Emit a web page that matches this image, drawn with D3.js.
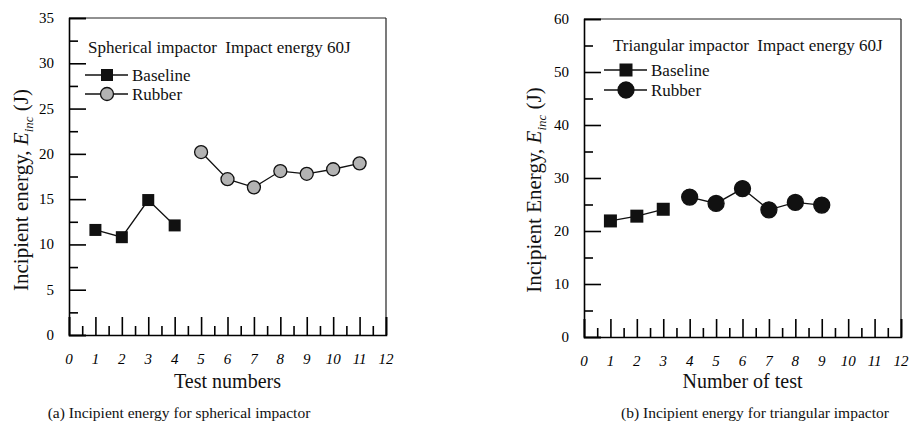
<!DOCTYPE html>
<html>
<head>
<meta charset="utf-8">
<script src="https://cdn.jsdelivr.net/npm/d3@7"></script>
<style>
  body { margin: 0; background: #fff; }
  text { font-family: "Liberation Serif", serif; }
</style>
</head>
<body>
<div id="chart"></div>
<script>
// spherical impactor
const sphBaseTests = [1, 2, 3, 4];
const sphBaseEnergy = [11.6, 10.8, 14.9, 12.1];
const sphRubTests = [5, 6, 7, 8, 9, 10, 11];
const sphRubEnergy = [20.2, 17.2, 16.3, 18.1, 17.8, 18.3, 18.95];

// triangular impactor
const triBaseTests = [1, 2, 3];
const triBaseEnergy = [21.9, 22.8, 24.1];
const triRubTests = [4, 5, 6, 7, 8, 9];
const triRubEnergy = [26.4, 25.2, 28, 24, 25.4, 24.9];

const xTicks = d3.range(0, 13);
const serif = "Liberation Serif";

const svg = d3.select("#chart").append("svg")
    .attr("width", 911)
    .attr("height", 428);

const addText = function(parent){
    return parent.append("text").attr("font-family", serif).attr("fill", "#111");
}

const drawPanel = function(opt){
    const x = d3.scaleLinear().domain([0, 12]).range([opt.left, opt.right]);
    const y = d3.scaleLinear().domain([0, opt.yMax]).range([opt.bottom, opt.top]);
    const g = svg.append("g");

    // frame
    g.append("line").attr("x1", opt.left).attr("x2", opt.right).attr("y1", opt.top).attr("y2", opt.top)
        .attr("stroke", "#222").attr("stroke-width", 1);
    g.append("line").attr("x1", opt.right).attr("x2", opt.right).attr("y1", opt.top).attr("y2", opt.bottom)
        .attr("stroke", "#222").attr("stroke-width", 1.2);

    // y axis, ticks pointing inward
    const yAxis = g.append("g")
        .attr("transform", `translate(${opt.left},0)`)
        .call(d3.axisRight(y).tickValues(d3.range(0, opt.yMax + 0.01, opt.yStep)).tickSize(17).tickFormat(""));
    yAxis.select(".domain").attr("stroke-width", 1.6);
    yAxis.selectAll(".tick line").attr("stroke-width", 1.6);
    g.append("g")
        .attr("transform", `translate(${opt.left},0)`)
        .call(d3.axisRight(y).tickValues(d3.range(opt.yStep / 2, opt.yMax, opt.yStep)).tickSize(9).tickFormat(""))
        .call(a => a.select(".domain").remove())
        .selectAll(".tick line").attr("stroke-width", 1.6);
    g.selectAll(".ylab")
        .data(d3.range(0, opt.yMax + 0.01, opt.yStep))
        .enter()
        .append("text")
        .attr("font-family", serif)
        .attr("x", opt.left - 15)
        .attr("y", d => y(d))
        .attr("dy", "0.33em")
        .attr("text-anchor", "end")
        .style("font-size", "15px")
        .text(d => d);

    // x axis, ticks pointing up
    const xAxis = g.append("g")
        .attr("transform", `translate(0,${opt.bottom})`)
        .call(d3.axisTop(x).tickValues(xTicks).tickSize(18).tickFormat(""));
    xAxis.select(".domain").attr("stroke-width", 1.6);
    xAxis.selectAll(".tick line").attr("stroke-width", 1.6);
    g.append("g")
        .attr("transform", `translate(0,${opt.bottom})`)
        .call(d3.axisTop(x).tickValues(d3.range(0.5, 12, 1)).tickSize(9).tickFormat(""))
        .call(a => a.select(".domain").remove())
        .selectAll(".tick line").attr("stroke-width", 1.6);
    g.selectAll(".xlab")
        .data(xTicks)
        .enter()
        .append("text")
        .attr("font-family", serif)
        .attr("x", d => x(d))
        .attr("y", opt.bottom + 29)
        .attr("text-anchor", "middle")
        .style("font-size", "15px")
        .style("font-style", "italic")
        .text(d => d);

    // titles
    addText(g)
        .attr("x", (opt.left + opt.right) / 2)
        .attr("y", 388)
        .attr("text-anchor", "middle")
        .style("font-size", "20px")
        .text(opt.xTitle);

    const yt = addText(g)
        .attr("transform", `translate(${opt.yTitleX},190) rotate(-90)`)
        .attr("text-anchor", "middle")
        .style("font-size", "21px");
    yt.append("tspan").text(opt.yTitle + ", ");
    yt.append("tspan").style("font-style", "italic").text("E");
    yt.append("tspan").style("font-style", "italic").style("font-size", "13px").attr("dy", 5).text("inc");
    yt.append("tspan").attr("dy", -5).text(" (J)");

    addText(g)
        .attr("x", opt.captionX)
        .attr("y", 418)
        .attr("text-anchor", "middle")
        .style("font-size", "15.5px")
        .text(opt.caption);

    // series
    const line = d3.line().x(d => x(d[0])).y(d => y(d[1]));
    const base = opt.baseTests.map((t, i) => [t, opt.baseEnergy[i]]);
    const rub = opt.rubTests.map((t, i) => [t, opt.rubEnergy[i]]);

    g.append("path").datum(base).attr("d", line).attr("fill", "none").attr("stroke", "#111").attr("stroke-width", 1.3);
    g.append("path").datum(rub).attr("d", line).attr("fill", "none").attr("stroke", "#111").attr("stroke-width", 1.3);

    const sq = opt.sq;
    g.selectAll(".base")
        .data(base)
        .enter()
        .append("rect")
        .attr("x", d => x(d[0]) - sq / 2)
        .attr("y", d => y(d[1]) - sq / 2)
        .attr("width", sq)
        .attr("height", sq)
        .attr("fill", "#111");

    g.selectAll(".rub")
        .data(rub)
        .enter()
        .append("circle")
        .attr("cx", d => x(d[0]))
        .attr("cy", d => y(d[1]))
        .attr("r", opt.rubR)
        .attr("fill", opt.rubFill)
        .attr("stroke", "#111")
        .attr("stroke-width", 1.3);

    // legend
    addText(g)
        .attr("x", opt.titleX)
        .attr("y", opt.legY)
        .attr("dy", "0.35em")
        .style("font-size", "17px")
        .style("white-space", "pre")
        .text(opt.legTitle);
    const ly1 = opt.legY + opt.legGap1;
    const ly2 = ly1 + opt.legGap2;
    g.append("line").attr("x1", opt.legX - 3).attr("x2", opt.legX + 40).attr("y1", ly1).attr("y2", ly1)
        .attr("stroke", "#111").attr("stroke-width", 1.3);
    g.append("rect").attr("x", opt.legX + 19 - sq / 2).attr("y", ly1 - sq / 2)
        .attr("width", sq).attr("height", sq).attr("fill", "#111");
    addText(g).attr("x", opt.legX + 44).attr("y", ly1).attr("dy", "0.35em")
        .style("font-size", "17px").text("Baseline");
    g.append("line").attr("x1", opt.legX - 3).attr("x2", opt.legX + 40).attr("y1", ly2).attr("y2", ly2)
        .attr("stroke", "#111").attr("stroke-width", 1.3);
    g.append("circle").attr("cx", opt.legX + 19).attr("cy", ly2).attr("r", opt.rubR)
        .attr("fill", opt.rubFill).attr("stroke", "#111").attr("stroke-width", 1.3);
    addText(g).attr("x", opt.legX + 44).attr("y", ly2).attr("dy", "0.35em")
        .style("font-size", "17px").text("Rubber");
}

drawPanel({
    left: 69, right: 386, top: 18, bottom: 335,
    yMax: 35, yStep: 5,
    baseTests: sphBaseTests, baseEnergy: sphBaseEnergy,
    rubTests: sphRubTests, rubEnergy: sphRubEnergy,
    sq: 12, rubR: 6.5, rubFill: "#b3b3b3",
    xTitle: "Test numbers",
    yTitle: "Incipient energy", yTitleX: 28,
    caption: "(a) Incipient energy for spherical impactor", captionX: 179,
    legTitle: "Spherical impactor  Impact energy 60J", titleX: 88, legX: 88, legY: 47, legGap1: 28, legGap2: 19
});

drawPanel({
    left: 584, right: 901, top: 19, bottom: 337,
    yMax: 60, yStep: 10,
    baseTests: triBaseTests, baseEnergy: triBaseEnergy,
    rubTests: triRubTests, rubEnergy: triRubEnergy,
    sq: 13, rubR: 8, rubFill: "#111",
    xTitle: "Number of test",
    yTitle: "Incipient Energy", yTitleX: 541,
    caption: "(b) Incipient energy for triangular impactor", captionX: 755,
    legTitle: "Triangular impactor  Impact energy 60J", titleX: 613, legX: 607, legY: 45, legGap1: 25, legGap2: 20
});
</script>
</body>
</html>
